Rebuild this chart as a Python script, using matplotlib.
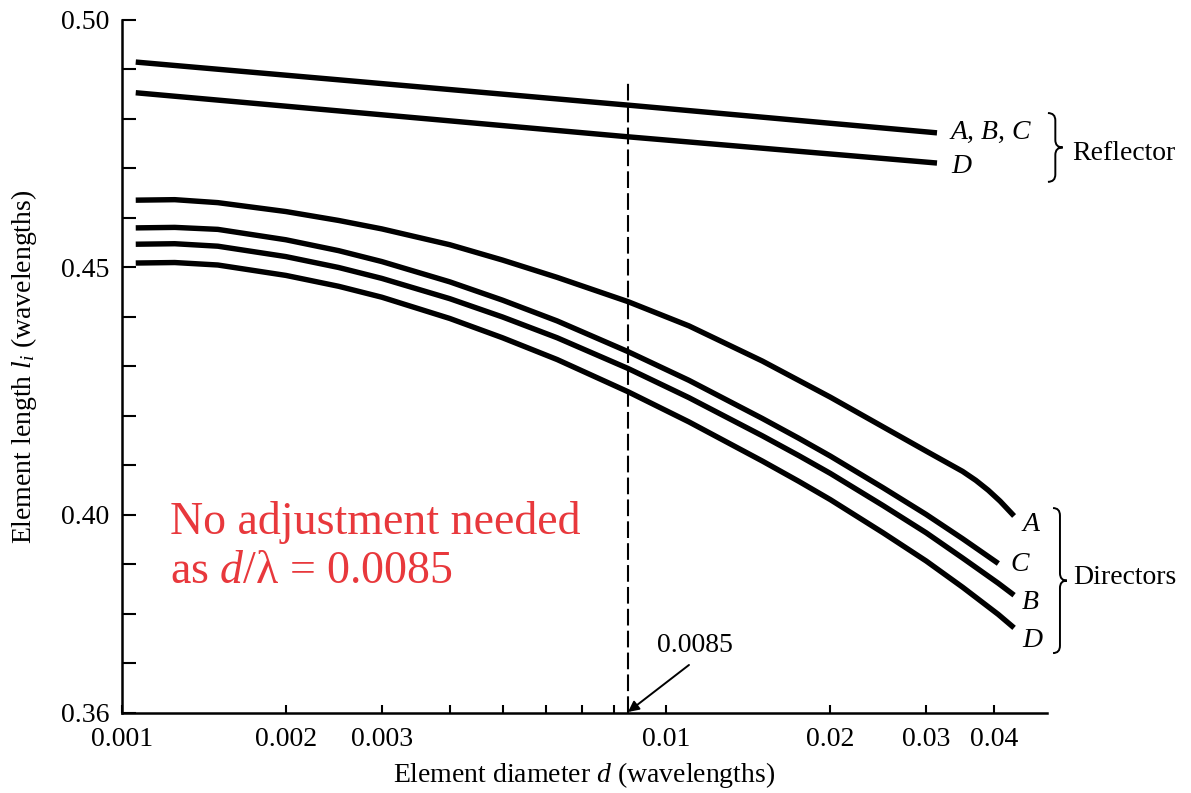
import matplotlib
matplotlib.use('Agg')
import matplotlib.pyplot as plt
from matplotlib.path import Path
from matplotlib.patches import PathPatch
from matplotlib.ticker import FixedLocator, NullFormatter

plt.rcParams['font.family'] = ['Liberation Serif', 'DejaVu Serif']
plt.rcParams['mathtext.fontset'] = 'custom'
plt.rcParams['mathtext.rm'] = 'Liberation Serif'
plt.rcParams['mathtext.it'] = 'Liberation Serif:italic'

# reflector lengths (A, B, C share one curve)
refl_abc_d = [0.00106, 0.0085, 0.0314]
refl_abc_l = [0.4915, 0.4828, 0.4772]
refl_d_d = [0.00106, 0.0085, 0.0314]
refl_d_l = [0.4853, 0.4764, 0.4711]

# director lengths
dir_a_d = [0.00106, 0.00125, 0.0015, 0.002, 0.0025, 0.003, 0.004, 0.005, 0.0063,
           0.0085, 0.011, 0.015, 0.02, 0.025, 0.03, 0.035, 0.037, 0.039, 0.041, 0.0435]
dir_a_l = [0.4636, 0.4637, 0.4631, 0.4613, 0.4595, 0.4578, 0.4546, 0.4515, 0.4480,
           0.4431, 0.4382, 0.4311, 0.4238, 0.4178, 0.4129, 0.4088, 0.4070, 0.4050,
           0.4028, 0.3998]
dir_c_d = [0.00106, 0.00125, 0.0015, 0.002, 0.0025, 0.003, 0.004, 0.005, 0.0063,
           0.0085, 0.011, 0.015, 0.0175, 0.02, 0.025, 0.03, 0.035, 0.0407]
dir_c_l = [0.4580, 0.4581, 0.4577, 0.4556, 0.4534, 0.4512, 0.4471, 0.4434, 0.4392,
           0.4330, 0.4272, 0.4195, 0.4155, 0.4119, 0.4055, 0.4001, 0.3952, 0.3902]
dir_b_d = [0.00106, 0.00125, 0.0015, 0.002, 0.0025, 0.003, 0.004, 0.005, 0.0063,
           0.0085, 0.011, 0.015, 0.0175, 0.02, 0.025, 0.03, 0.035, 0.0407, 0.0435]
dir_b_l = [0.4547, 0.4548, 0.4543, 0.4522, 0.4500, 0.4478, 0.4437, 0.4400, 0.4358,
           0.4296, 0.4237, 0.4160, 0.4120, 0.4084, 0.4019, 0.3964, 0.3913, 0.3862, 0.3838]
dir_d_d = [0.00106, 0.00125, 0.0015, 0.002, 0.0025, 0.003, 0.004, 0.005, 0.0063,
           0.0085, 0.011, 0.015, 0.0175, 0.02, 0.025, 0.03, 0.035, 0.0407, 0.0435]
dir_d_l = [0.4509, 0.4510, 0.4505, 0.4484, 0.4462, 0.4440, 0.4397, 0.4358, 0.4314,
           0.4249, 0.4188, 0.4109, 0.4068, 0.4031, 0.3964, 0.3907, 0.3854, 0.3799, 0.3772]

d_design = 0.0085

xticks = [0.001, 0.002, 0.003, 0.01, 0.02, 0.03, 0.04]
xticklabels = ['0.001', '0.002', '0.003', '0.01', '0.02', '0.03', '0.04']
xminor = [0.004, 0.005, 0.006, 0.007, 0.008]
yticks = [0.36, 0.40, 0.45, 0.50]
yticklabels = ['0.36', '0.40', '0.45', '0.50']
yminor = [0.37, 0.38, 0.39, 0.41, 0.42, 0.43, 0.44, 0.46, 0.47, 0.48, 0.49]

fig = plt.figure(figsize=(11.91, 7.93), dpi=100)
ax = fig.add_axes([0.1024, 0.1009, 0.7767, 0.8739])

lw = 3.9
for xs, ys in [(refl_abc_d, refl_abc_l), (refl_d_d, refl_d_l),
               (dir_a_d, dir_a_l), (dir_c_d, dir_c_l),
               (dir_b_d, dir_b_l), (dir_d_d, dir_d_l)]:
    ax.plot(xs, ys, color='black', lw=lw, solid_capstyle='butt',
            solid_joinstyle='round')

ax.plot([d_design, d_design], [0.36, 0.4875], color='black', lw=1.5,
        linestyle=(0, (8, 2.5)))

ax.set_xscale('log')
ax.set_xlim(0.001, 0.05)
ax.set_ylim(0.36, 0.50)

ax.xaxis.set_major_locator(FixedLocator(xticks))
ax.set_xticklabels(xticklabels)
ax.xaxis.set_minor_locator(FixedLocator(xminor))
ax.xaxis.set_minor_formatter(NullFormatter())
ax.yaxis.set_major_locator(FixedLocator(yticks))
ax.set_yticklabels(yticklabels)
ax.yaxis.set_minor_locator(FixedLocator(yminor))

ax.tick_params(axis='x', which='both', direction='in', length=6, width=1.5,
               labelsize=20, pad=10)
ax.tick_params(axis='y', which='both', direction='in', length=10, width=1.5,
               labelsize=20, pad=9)

for s in ['top', 'right']:
    ax.spines[s].set_visible(False)
for s in ['left', 'bottom']:
    ax.spines[s].set_linewidth(1.8)

ax.set_xlabel('Element diameter $d$ (wavelengths)', fontsize=20, labelpad=6)
ax.set_ylabel('Element length $l_i$ (wavelengths)', fontsize=20, labelpad=16)

# curve labels
ax.text(0.0333, 0.4772, 'A, B, C', fontsize=20, style='italic', va='center')
ax.text(0.0333, 0.4703, 'D', fontsize=20, style='italic', va='center')
ax.text(0.0450, 0.3980, 'A', fontsize=20, style='italic', va='center')
ax.text(0.0428, 0.3899, 'C', fontsize=20, style='italic', va='center')
ax.text(0.0450, 0.3824, 'B', fontsize=20, style='italic', va='center')
ax.text(0.0450, 0.3747, 'D', fontsize=20, style='italic', va='center')


def brace(x0, w, y_lo, y_hi, r):
    ym = (y_lo + y_hi) / 2
    xm = x0 + w / 2
    verts = [(x0, y_hi), (xm, y_hi), (xm, y_hi - r),
             (xm, ym + r),
             (xm, ym), (x0 + w, ym),
             (xm, ym), (xm, ym - r),
             (xm, y_lo + r),
             (xm, y_lo), (x0, y_lo)]
    codes = [Path.MOVETO, Path.CURVE3, Path.CURVE3,
             Path.LINETO,
             Path.CURVE3, Path.CURVE3,
             Path.CURVE3, Path.CURVE3,
             Path.LINETO,
             Path.CURVE3, Path.CURVE3]
    patch = PathPatch(Path(verts, codes), facecolor='none', edgecolor='black',
                      lw=1.4, transform=ax.get_yaxis_transform(), clip_on=False)
    ax.add_patch(patch)


brace(1.001, 0.016, 0.4673, 0.4812, 0.0015)
brace(1.0065, 0.015, 0.3721, 0.4014, 0.0015)
ax.text(1.027, 0.4731, 'Reflector', fontsize=20, va='center',
        transform=ax.get_yaxis_transform())
ax.text(1.028, 0.3873, 'Directors', fontsize=20, va='center',
        transform=ax.get_yaxis_transform())

# design diameter annotation
ax.text(0.01128, 0.3737, '0.0085', fontsize=20, ha='center', va='center')
ax.annotate('', xy=(d_design, 0.3602), xytext=(0.0110, 0.3697),
            arrowprops=dict(arrowstyle='-|>', color='black', lw=1.4,
                            mutation_scale=16, shrinkA=0, shrinkB=0))

ax.text(0.001225, 0.4029, 'No adjustment needed\nas $d$/\u03bb = 0.0085',
        fontsize=33, color='#e8383c', va='top', ha='left')

fig.savefig('out.png', dpi=100)
plt.close()
